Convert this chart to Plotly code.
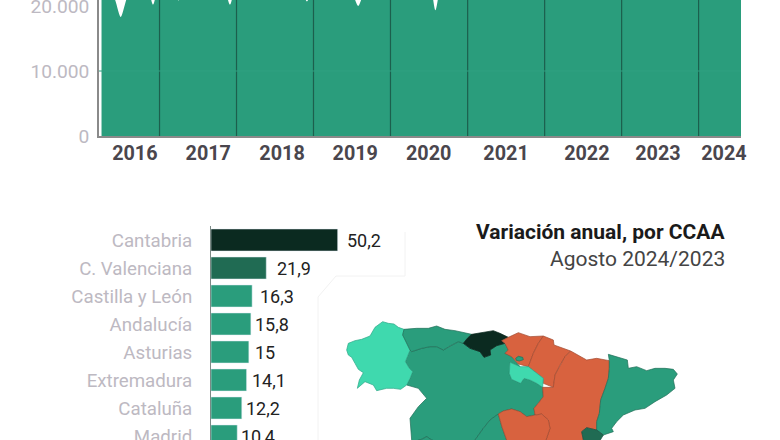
import pandas as pd
import plotly.graph_objects as go

W = 780
H = 440

# serie mensual, la parte alta queda fuera del recorte
dates = pd.date_range("2016-04-01", "2024-08-01", freq="MS")
values_2016 = [23100, 22400, 21200, 18300, 21400, 23000, 23600, 23400, 20200]
values_2017 = [23500, 23800, 22600, 20850, 23200, 24100, 24400, 24300, 24800, 25000, 23400, 20200]
values_2018 = [23600, 24200, 24800, 25300, 25000, 25700, 25900, 25200, 25600, 26000, 23000, 20700]
values_2019 = [23300, 24600, 25200, 25800, 26100, 25500, 22500, 20000, 22700, 25800, 26200, 25400]
values_2020 = [25800, 26400, 26000, 25100, 24800, 25300, 24500, 19350, 24600, 26500, 27200, 27800]
values_2021 = [28000, 28400, 28900, 29300, 29700, 30100, 29500, 28600, 30400, 31000, 31500, 31800]
values_2022 = [32000, 32500, 33000, 33400, 33100, 33800, 33300, 32500, 34000, 34800, 35100, 35400]
values_2023 = [35600, 36000, 36500, 36200, 36800, 37100, 36500, 35200, 37300, 37900, 38200, 38400]
values_2024 = [38700, 39100, 39600, 39900, 40300, 40600, 40000, 40700]
series = (values_2016 + values_2017 + values_2018 + values_2019 + values_2020
          + values_2021 + values_2022 + values_2023 + values_2024)

year_starts = ["2017-01-01", "2018-01-01", "2019-01-01", "2020-01-01",
               "2021-01-01", "2022-01-01", "2023-01-01", "2024-01-01"]
year_labels = ["2016", "2017", "2018", "2019", "2020", "2021", "2022", "2023", "2024"]
year_label_dates = ["2016-09-06", "2017-08-20", "2018-08-05", "2019-07-18", "2020-06-30",
                    "2021-07-02", "2022-07-20", "2023-06-22", "2024-04-30"]

# variacion anual por CCAA
ccaa = ["Cantabria", "C. Valenciana", "Castilla y León", "Andalucía",
        "Asturias", "Extremadura", "Cataluña", "Madrid"]
variation = [50.2, 21.9, 16.3, 15.8, 15, 14.1, 12.2, 10.4]
variation_labels = [str(v).replace(".", ",") for v in variation]
label_gaps = [9, 11, 8, 4, 6, 5, 4, 4]

GREEN = "#2a9d7c"
DARK = "#0b2a20"
MID = "#206b53"
LIGHT = "#3fd9ae"
ORANGE = "#d8623f"
bar_colors = [DARK, MID, GREEN, GREEN, GREEN, GREEN, GREEN, GREEN]

# contornos del mapa, unidades en km aprox. (este, sur) desde un origen local
galicia = [(50, 150), (55, 130), (75, 122), (95, 118), (120, 108), (128, 95), (135, 82), (158, 65),
           (175, 70), (192, 72), (205, 82), (222, 88), (218, 105), (228, 125), (240, 150), (232, 170),
           (226, 185), (238, 205), (248, 215), (240, 235), (230, 255), (212, 268), (190, 265),
           (170, 265), (140, 272), (130, 255), (105, 245), (82, 265), (88, 240), (100, 218),
           (85, 208), (75, 190), (65, 172), (55, 165)]
asturias = [(222, 88), (260, 85), (295, 85), (320, 78), (345, 88), (375, 92), (425, 103), (412, 115),
            (400, 130), (385, 125), (360, 138), (340, 150), (320, 140), (300, 140), (275, 145),
            (245, 155), (240, 150), (228, 125), (218, 105)]
cantabria = [(425, 103), (465, 97), (490, 92), (510, 100), (535, 112), (515, 122), (525, 130),
             (500, 137), (480, 150), (482, 165), (462, 172), (450, 155), (420, 145), (400, 130),
             (412, 115)]
pais_vasco = [(535, 112), (565, 98), (600, 110), (640, 108), (625, 130), (610, 160), (595, 200),
              (565, 192), (545, 170), (525, 160), (535, 150), (525, 130), (515, 122)]
trevino = [(557, 175), (565, 169), (578, 172), (580, 179), (568, 183), (559, 181)]
navarra = [(640, 108), (670, 120), (672, 135), (700, 145), (722, 153), (705, 170), (690, 195),
           (675, 225), (670, 262), (640, 250), (640, 235), (595, 200), (610, 160), (625, 130)]
rioja = [(540, 187), (570, 200), (595, 200), (640, 235), (638, 262), (620, 250), (600, 240),
         (582, 235), (572, 250), (560, 245), (545, 238), (538, 220)]
castilla_leon = [(245, 155), (275, 145), (300, 140), (320, 140), (340, 150), (360, 138), (385, 125),
                 (400, 130), (420, 145), (450, 155), (462, 172), (482, 165), (480, 150), (500, 137),
                 (525, 130), (535, 150), (525, 160), (545, 170), (565, 192), (570, 200), (540, 187),
                 (538, 220), (545, 238), (560, 245), (572, 250), (582, 235), (600, 240), (620, 250),
                 (638, 262), (640, 290), (625, 310), (612, 325), (615, 345), (590, 350), (570, 335),
                 (545, 327), (520, 333), (505, 342), (480, 360), (460, 385), (435, 420), (425, 480),
                 (320, 480), (320, 425), (305, 420), (290, 410), (275, 418), (250, 425), (245, 420),
                 (240, 355), (265, 320), (290, 295), (265, 265), (230, 255), (240, 235), (248, 215),
                 (238, 205), (226, 185), (232, 170), (240, 150)]
extremadura = [(250, 425), (275, 418), (290, 410), (305, 420), (320, 425), (320, 480), (250, 480)]
madrid = [(505, 342), (516, 381), (530, 420), (530, 480), (425, 480), (435, 420), (460, 385), (480, 360)]
castilla_mancha = [(505, 342), (520, 333), (545, 327), (570, 335), (590, 350), (615, 345), (635, 342),
                   (655, 360), (660, 385), (648, 420), (640, 480), (530, 480), (530, 420), (516, 381)]
aragon = [(722, 153), (745, 165), (770, 180), (800, 175), (838, 182), (838, 205), (835, 235),
          (825, 265), (812, 300), (808, 340), (800, 365), (800, 390), (770, 383), (755, 395),
          (760, 420), (755, 480), (640, 480), (648, 420), (660, 385), (655, 360), (635, 342),
          (615, 345), (612, 325), (625, 310), (640, 290), (638, 262), (670, 262), (675, 225),
          (690, 195), (705, 170)]
cataluna = [(835, 163), (860, 170), (892, 180), (895, 205), (920, 200), (950, 212), (975, 205),
            (1005, 205), (1030, 208), (1042, 222), (1030, 240), (1035, 265), (1010, 285), (975, 305),
            (945, 325), (915, 330), (880, 345), (860, 365), (845, 385), (850, 395), (820, 405),
            (800, 390), (800, 365), (808, 340), (812, 300), (825, 265), (835, 235), (838, 205),
            (838, 182)]
valencia = [(755, 395), (770, 383), (800, 390), (820, 405), (805, 430), (790, 480), (755, 480), (760, 420)]

regions = [
    (castilla_leon, GREEN, "#1f6f58"),
    (extremadura, GREEN, "#1f6f58"),
    (madrid, GREEN, "#1f6f58"),
    (galicia, LIGHT, "#2fa888"),
    (asturias, GREEN, "#1f6f58"),
    (cantabria, DARK, DARK),
    (pais_vasco, ORANGE, "#a04a30"),
    (trevino, GREEN, "#1f6f58"),
    (navarra, ORANGE, "#a04a30"),
    (rioja, LIGHT, "#2fa888"),
    (aragon, ORANGE, "#a04a30"),
    (castilla_mancha, ORANGE, "#a04a30"),
    (cataluna, GREEN, "#1f6f58"),
    (valencia, MID, "#175040"),
]

fig = go.Figure()

fig.add_trace(
    go.Scatter(
        x=dates,
        y=series,
        mode="lines",
        fill="tozeroy",
        fillcolor=GREEN,
        line=dict(width=0, color=GREEN, shape="spline", smoothing=0.7),
        xaxis="x",
        yaxis="y",
    )
)

fig.add_trace(
    go.Bar(
        x=variation,
        y=ccaa,
        orientation="h",
        marker_color=bar_colors,
        xaxis="x2",
        yaxis="y2",
    )
)

for name, value, label, gap in zip(ccaa, variation, variation_labels, label_gaps):
    fig.add_annotation(
        text=label,
        x=value,
        y=name,
        xref="x2",
        yref="y2",
        xanchor="left",
        yanchor="middle",
        xshift=gap - 2,
        showarrow=False,
        font=dict(family="Roboto", size=18, color="#222222"),
    )

for outline, color, border in regions:
    fig.add_trace(
        go.Scatter(
            x=[p[0] for p in outline] + [outline[0][0]],
            y=[p[1] for p in outline] + [outline[0][1]],
            mode="lines",
            fill="toself",
            fillcolor=color,
            line=dict(width=0.7, color=border),
            xaxis="x3",
            yaxis="y3",
        )
    )

for year_start in year_starts:
    fig.add_shape(
        type="line",
        x0=year_start,
        x1=year_start,
        y0=0,
        y1=1,
        xref="x",
        yref="y domain",
        line=dict(color="#1c5f4d", width=1.2),
    )

# rastro de la rejilla que se transparenta en el area
fig.add_shape(
    type="line",
    x0=0,
    x1=1,
    y0=10000,
    y1=10000,
    xref="x domain",
    yref="y",
    line=dict(color="#2fa080", width=1),
)

# linea muy tenue alrededor de las barras
corner_x = [405, 405, 336, 318, 318]
corner_y = [232, 276, 276, 297, 440]
path = "M " + " L ".join(f"{x / W} {1 - y / H}" for x, y in zip(corner_x, corner_y))
fig.add_shape(type="path", path=path, xref="paper", yref="paper", line=dict(color="#f2f2f2", width=1))

fig.add_annotation(
    text="<b>Variación anual, por CCAA</b>",
    xref="paper", yref="paper", x=727 / W, y=1 - 232 / H,
    xanchor="right", yanchor="middle", showarrow=False,
    font=dict(family="Roboto", size=21, color="#1a1a1a"),
)
fig.add_annotation(
    text="Agosto 2024/2023",
    xref="paper", yref="paper", x=727 / W, y=1 - 259 / H,
    xanchor="right", yanchor="middle", showarrow=False,
    font=dict(family="Roboto", size=21, color="#444444"),
)

fig.update_layout(
    width=W,
    height=H,
    margin=dict(l=0, r=0, t=0, b=0),
    autosize=False,
    paper_bgcolor="white",
    plot_bgcolor="white",
    showlegend=False,
    separators=",.",
    bargap=0.214,
    xaxis=dict(
        domain=[99 / W, 741 / W],
        range=["2016-03-20", "2024-07-20"],
        type="date",
        automargin=False,
        tickmode="array",
        tickvals=year_label_dates,
        ticktext=year_labels,
        ticks="",
        ticklabelstandoff=-2,
        showgrid=False,
        showline=True,
        linecolor="#8a8a8a",
        linewidth=1.5,
        tickfont=dict(family="Roboto", size=19.8, color="#4a464d", weight="bold"),
    ),
    yaxis=dict(
        domain=[1 - 136 / H, 1],
        range=[0, 20923],
        automargin=False,
        tickvals=[0, 10000, 20000],
        tickformat=",d",
        showgrid=False,
        showline=True,
        linecolor="#8a8a8a",
        linewidth=1.5,
        zeroline=False,
        ticks="outside",
        ticklen=4,
        tickcolor="rgba(0,0,0,0)",
        ticklabeloverflow="allow",
        tickfont=dict(family="Roboto", size=19.2, color="#bdb9c2"),
    ),
    xaxis2=dict(
        domain=[211 / W, 400 / W],
        range=[0, 74.9],
        anchor="y2",
        automargin=False,
        visible=False,
    ),
    yaxis2=dict(
        domain=[0, 214 / H],
        range=[7.143, -0.5],
        anchor="x2",
        type="category",
        automargin=False,
        showgrid=False,
        showline=True,
        linecolor="#7c8a86",
        linewidth=1,
        ticks="outside",
        ticklen=14,
        tickcolor="rgba(0,0,0,0)",
        tickfont=dict(family="Roboto", size=18.7, color="#bdb9c2"),
    ),
    xaxis3=dict(
        domain=[340 / W, 690 / W],
        range=[30, 1080],
        anchor="y3",
        automargin=False,
        visible=False,
    ),
    yaxis3=dict(
        domain=[0, 140 / H],
        range=[420, 0],
        anchor="x3",
        automargin=False,
        visible=False,
    ),
)

fig.write_html("out.html", config={"displayModeBar": False},
               post_script="document.body.style.margin='0';")
